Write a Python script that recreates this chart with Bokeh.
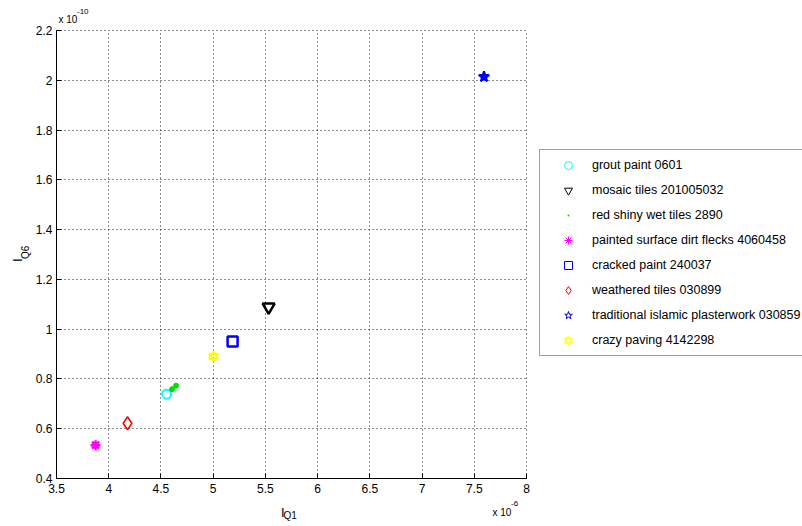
import math
from bokeh.plotting import figure
from bokeh.models import (Range1d, FixedTicker, CustomJSTickFormatter, Legend,
                          LegendItem, Label, ColumnDataSource, Grid, BoxAnnotation)
from bokeh.embed import file_html
from bokeh.resources import INLINE

# ---- data (x in units of 1e-6, y in units of 1e-10) ----
x_ticks = [3.5, 4, 4.5, 5, 5.5, 6, 6.5, 7, 7.5, 8]
y_ticks = [0.4, 0.6, 0.8, 1.0, 1.2, 1.4, 1.6, 1.8, 2.0, 2.2]

series_names = [
    "grout paint 0601",
    "mosaic tiles 201005032",
    "red shiny wet tiles 2890",
    "painted surface dirt flecks 4060458",
    "cracked paint 240037",
    "weathered tiles 030899",
    "traditional islamic plasterwork 030859",
    "crazy paving 4142298",
]
grout_x = [4.554]
grout_y = [0.739]
mosaic_x = [5.531]
mosaic_y = [1.089]
redshiny_x = [4.606, 4.645]
redshiny_y = [0.759, 0.773]
painted_x = [3.874]
painted_y = [0.534]
cracked_x = [5.186]
cracked_y = [0.950]
weathered_x = [4.180]
weathered_y = [0.622]
islamic_x = [7.593]
islamic_y = [2.014]
crazy_x = [5.004]
crazy_y = [0.891]

FONT = "Liberation Sans"

# ---- layout (pixels) ----
W, H = 802, 526
AX_L, AX_T, AX_W, AX_H = 56, 30, 470, 448
X0, X1 = x_ticks[0], x_ticks[-1]
Y0, Y1 = y_ticks[0], y_ticks[-1]
kx = AX_W / (X1 - X0)
ky = AX_H / (Y1 - Y0)
xr = Range1d(X0 - AX_L / kx, X1 + (W - AX_L - AX_W) / kx)
yr = Range1d(Y0 - (H - AX_T - AX_H) / ky, Y1 + AX_T / ky)

p = figure(width=W, height=H, x_range=xr, y_range=yr,
           output_backend="svg", toolbar_location=None,
           min_border_left=0, min_border_right=0, min_border_top=0, min_border_bottom=0)
p.outline_line_color = None
p.background_fill_color = "white"
p.border_fill_color = "white"
# an off-screen range used only by the thin legend-sample renderers
p.extra_x_ranges = {"legend_only": Range1d(1e6, 1e6 + 1)}

fmt = CustomJSTickFormatter(code="return String(Math.round(tick*10)/10);")
p.xaxis.ticker = FixedTicker(ticks=x_ticks)
p.yaxis.ticker = FixedTicker(ticks=y_ticks)
p.xaxis.fixed_location = Y0
p.yaxis.fixed_location = X0
p.xaxis.bounds = (X0, X1)
p.yaxis.bounds = (Y0, Y1)
for ax in (p.xaxis, p.yaxis):
    ax.formatter = fmt
    ax.major_tick_in = 5
    ax.major_tick_out = 0
    ax.minor_tick_line_color = None
    ax.axis_line_color = "#000000"
    ax.major_tick_line_color = "#000000"
    ax.major_label_text_font = FONT
    ax.major_label_text_font_size = "12px"
    ax.major_label_text_color = "#000000"
p.xaxis.major_label_standoff = 5
p.yaxis.major_label_standoff = 4

has_cross = "cross_bounds" in Grid.properties()
for g in (p.xgrid, p.ygrid):
    g.grid_line_color = "#000000"
    g.grid_line_dash = "1 3"
    g.grid_line_alpha = 0.9
if has_cross:
    p.xgrid.cross_bounds = (Y0, Y1)
    p.ygrid.cross_bounds = (X0, X1)
else:
    eps_x = 1.5 / kx
    eps_y = 1.5 / ky
    for kw in (dict(right=X0), dict(left=X1 + eps_x), dict(top=Y0), dict(bottom=Y1 + eps_y)):
        p.add_layout(BoxAnnotation(fill_color="white", fill_alpha=1.0, line_color=None,
                                   level="underlay", **kw))

items = []

def add(name, xs, ys, markers, color, size, lw, filled=False, leg_marker=None, leg_lw=1.0):
    src = ColumnDataSource(dict(x=xs, y=ys))
    leg = []
    for m in markers:
        p.scatter("x", "y", source=src, marker=m, size=size, line_color=color,
                  line_width=lw, fill_color=color if filled else None)
        lm = leg_marker or m
        leg.append(p.scatter("x", "y", source=src, x_range_name="legend_only",
                             marker=lm, line_color=color, line_width=leg_lw,
                             fill_color=color if lm == "dot" else None))
    items.append(LegendItem(label=name, renderers=leg))

add(series_names[0], grout_x, grout_y, ["circle"], "#00FFFF", 9, 2)
add(series_names[1], mosaic_x, mosaic_y, ["inverted_triangle"], "#000000", 12, 2.5)
add(series_names[2], redshiny_x, redshiny_y, ["circle"], "#00E000", 5, 1, filled=True,
    leg_marker="dot", leg_lw=3.5)
add(series_names[3], painted_x, painted_y, ["asterisk"], "#FF00FF", 10, 2.5)
add(series_names[4], cracked_x, cracked_y, ["square"], "#0000FF", 10, 2.5)
add(series_names[5], weathered_x, weathered_y, ["diamond"], "#FF0000", 13, 1.5)
add(series_names[6], islamic_x, islamic_y, ["star"], "#0000FF", 11, 2, filled=True)
add(series_names[7], crazy_x, crazy_y, ["triangle", "inverted_triangle"], "#FFFF00", 9, 2)

legend = Legend(items=items, location=(539, 170), orientation="vertical",
                border_line_color="#404040", border_line_width=1,
                background_fill_color="white", background_fill_alpha=1.0,
                padding=5, spacing=5, margin=0, label_height=20, glyph_height=20,
                glyph_width=46, label_standoff=1, label_text_font=FONT,
                label_text_font_size="12.5px", label_text_color="#000000")
p.add_layout(legend, "center")

def lab(text, x, y, size, angle=0.0):
    # x, y: page pixels from top-left
    p.add_layout(Label(text=text, x=x, y=H - y, x_units="screen", y_units="screen",
                       text_font=FONT, text_font_size=size, text_color="#000000",
                       text_align="left", text_baseline="alphabetic", angle=angle))

lab("I", 280.5, 512, "13px")
lab("Q1", 283, 515, "10px")
lab("I", 17.3, 261.5, "13px", math.pi / 2)
lab("Q6", 25, 258.5, "10px", math.pi / 2)
lab("x 10", 58, 19, "10px")
lab("-10", 76.5, 11, "8px")
lab("x 10", 492, 512, "10px")
lab("-6", 510.5, 502.5, "8px")

open("out.html", "w").write(file_html(p, INLINE))
